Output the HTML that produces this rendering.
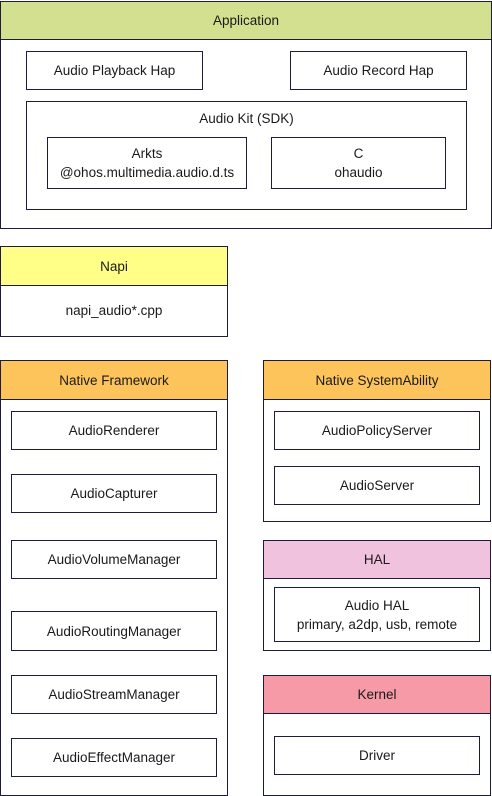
<!DOCTYPE html>
<html><head><meta charset="utf-8"><style>
body{margin:0;width:492px;height:796px;background:#fff;position:relative;overflow:hidden;font-family:"Liberation Sans","Noto Sans CJK SC",sans-serif;font-size:13.5px;color:#1a1a1a}
div.b{position:absolute;box-sizing:border-box;border:1px solid #1c1c3c;display:flex;align-items:center;justify-content:center;text-align:center;line-height:19px}
</style></head><body>
<div class="b" style="left:0;top:1px;width:492px;height:228px"></div>
<div class="b" style="left:0;top:1px;width:492px;height:39px;background:#d3e08f">Application</div>
<div class="b" style="left:26px;top:51px;width:177px;height:39px">Audio Playback Hap</div>
<div class="b" style="left:290px;top:51px;width:177px;height:39px">Audio Record Hap</div>
<div class="b" style="left:26px;top:101px;width:441px;height:109px;align-items:flex-start;padding-top:7px">Audio Kit (SDK)</div>
<div class="b" style="left:47px;top:137px;width:200px;height:52px">Arkts<br>@ohos.multimedia.audio.d.ts</div>
<div class="b" style="left:271px;top:137px;width:175px;height:52px">C<br>ohaudio</div>

<div class="b" style="left:0;top:246px;width:228px;height:91px"></div>
<div class="b" style="left:0;top:246px;width:228px;height:40px;background:#ffff88">Napi</div>
<div class="b" style="left:0;top:285px;width:228px;height:52px;border-top:none">napi_audio*.cpp</div>

<div class="b" style="left:0;top:360px;width:228px;height:436px"></div>
<div class="b" style="left:0;top:360px;width:228px;height:40px;background:#fdc45c">Native Framework</div>
<div class="b" style="left:11px;top:411px;width:206px;height:39px">AudioRenderer</div>
<div class="b" style="left:11px;top:474px;width:206px;height:39px">AudioCapturer</div>
<div class="b" style="left:11px;top:540px;width:206px;height:39px">AudioVolumeManager</div>
<div class="b" style="left:11px;top:611px;width:206px;height:40px">AudioRoutingManager</div>
<div class="b" style="left:11px;top:675px;width:206px;height:39px">AudioStreamManager</div>
<div class="b" style="left:11px;top:738px;width:206px;height:39px">AudioEffectManager</div>

<div class="b" style="left:263px;top:360px;width:228px;height:162px"></div>
<div class="b" style="left:263px;top:360px;width:228px;height:40px;background:#fdc45c">Native SystemAbility</div>
<div class="b" style="left:274px;top:411px;width:206px;height:39px">AudioPolicyServer</div>
<div class="b" style="left:274px;top:466px;width:206px;height:39px">AudioServer</div>

<div class="b" style="left:263px;top:540px;width:228px;height:111px"></div>
<div class="b" style="left:263px;top:540px;width:228px;height:39px;background:#f0c2de">HAL</div>
<div class="b" style="left:274px;top:587px;width:206px;height:55px">Audio HAL<br>primary, a2dp, usb, remote</div>

<div class="b" style="left:263px;top:675px;width:228px;height:121px"></div>
<div class="b" style="left:263px;top:675px;width:228px;height:39px;background:#f79aa8">Kernel</div>
<div class="b" style="left:274px;top:736px;width:206px;height:39px">Driver</div>
</body></html>
